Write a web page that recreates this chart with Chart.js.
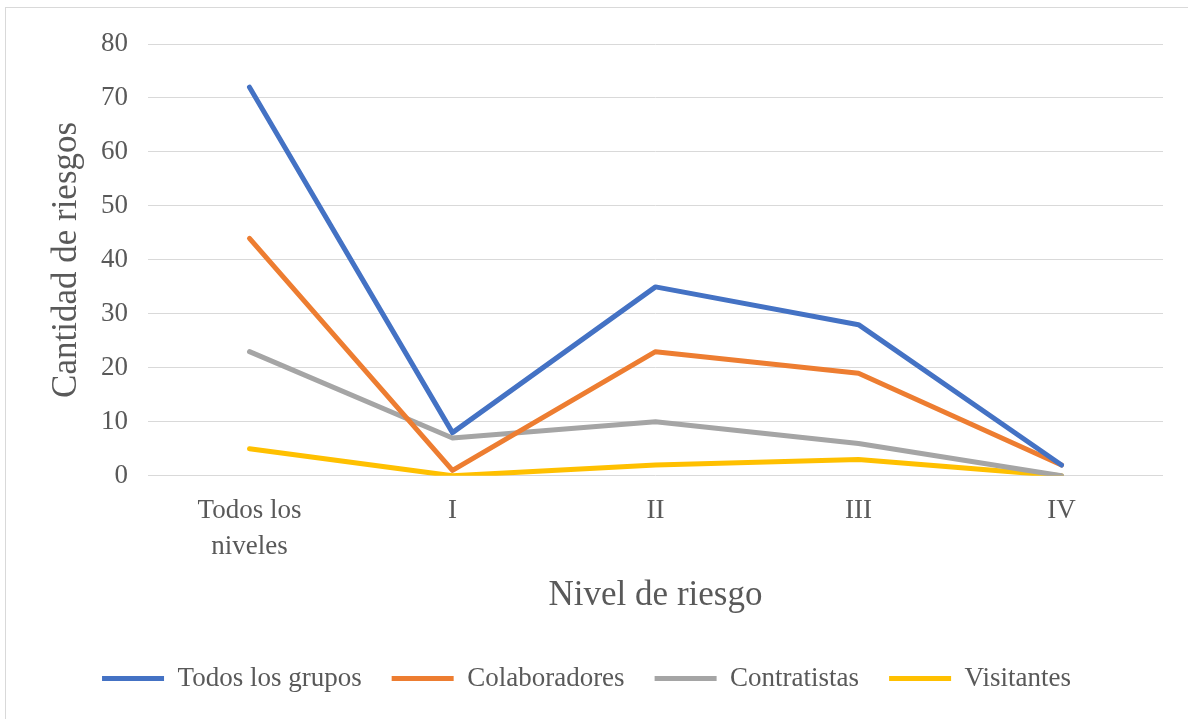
<!DOCTYPE html>
<html>
<head>
<meta charset="utf-8">
<script src="https://cdn.jsdelivr.net/npm/chart.js@4/dist/chart.umd.min.js"></script>
<style>
  html, body { margin: 0; padding: 0; background: #ffffff; }
  #wrap { position: relative; width: 1188px; height: 719px; }
  #frame { position: absolute; left: 5px; top: 7px; width: 1200px; height: 800px; border-left: 1px solid #d9d9d9; border-top: 1px solid #d9d9d9; box-sizing: border-box; pointer-events: none; }
  canvas { position: absolute; left: 0; top: 0; }
</style>
</head>
<body>
<div id="wrap">
  <canvas id="c" width="1188" height="719"></canvas>
  <div id="frame"></div>
</div>
<script>
const categories = [["Todos los", "niveles"], "I", "II", "III", "IV"];
const todosLosGrupos = [72, 8, 35, 28, 2];
const colaboradores = [44, 1, 23, 19, 2];
const contratistas = [23, 7, 10, 6, 0];
const visitantes = [5, 0, 2, 3, 0];
const yTicks = [0, 10, 20, 30, 40, 50, 60, 70, 80];

const serif = "'Liberation Serif', 'Times New Roman', serif";
const textColor = '#595959';

function ds(label, data, color) {
  return {
    label: label, data: data, borderColor: color, backgroundColor: color,
    borderWidth: 5, pointRadius: 0, pointHoverRadius: 0, tension: 0,
    borderCapStyle: 'round', borderJoinStyle: 'round', fill: false
  };
}

new Chart(document.getElementById('c'), {
  type: 'line',
  data: {
    labels: categories,
    datasets: [
      ds('Todos los grupos', todosLosGrupos, '#4472C4'),
      ds('Colaboradores', colaboradores, '#ED7D31'),
      ds('Contratistas', contratistas, '#A5A5A5'),
      ds('Visitantes', visitantes, '#FFC000')
    ]
  },
  options: {
    responsive: false,
    animation: false,
    layout: { padding: { left: 10, right: 25, top: 44, bottom: 17 } },
    plugins: {
      legend: {
        position: 'bottom',
        labels: {
          font: { family: serif, size: 27 },
          color: textColor,
          boxWidth: 62,
          boxHeight: 5,
          padding: 30,
          generateLabels: function(chart) {
            return chart.data.datasets.map(function(d, i) {
              return { text: d.label, fillStyle: d.borderColor, strokeStyle: d.borderColor, lineWidth: 0, datasetIndex: i, fontColor: textColor };
            });
          }
        }
      },
      tooltip: { enabled: false }
    },
    scales: {
      x: {
        offset: true,
        grid: { display: false, drawTicks: false },
        border: { display: false },
        ticks: { font: { family: serif, size: 27, lineHeight: 1.3 }, color: textColor, padding: 18, maxRotation: 0, autoSkip: false },
        title: { display: true, text: 'Nivel de riesgo', font: { family: serif, size: 35 }, color: textColor, padding: { top: -7, bottom: 18 } }
      },
      y: {
        min: 0, max: 80,
        afterBuildTicks: function(axis) { axis.ticks = yTicks.map(function(v) { return { value: v }; }); },
        grid: { color: '#d9d9d9', lineWidth: 1, drawTicks: false },
        border: { display: false },
        ticks: { font: { family: serif, size: 27 }, color: textColor, padding: 20 },
        title: { display: true, text: 'Cantidad de riesgos', font: { family: serif, size: 35 }, color: textColor, padding: { top: 36, bottom: -7 } }
      }
    }
  }
});
</script>
</body>
</html>
